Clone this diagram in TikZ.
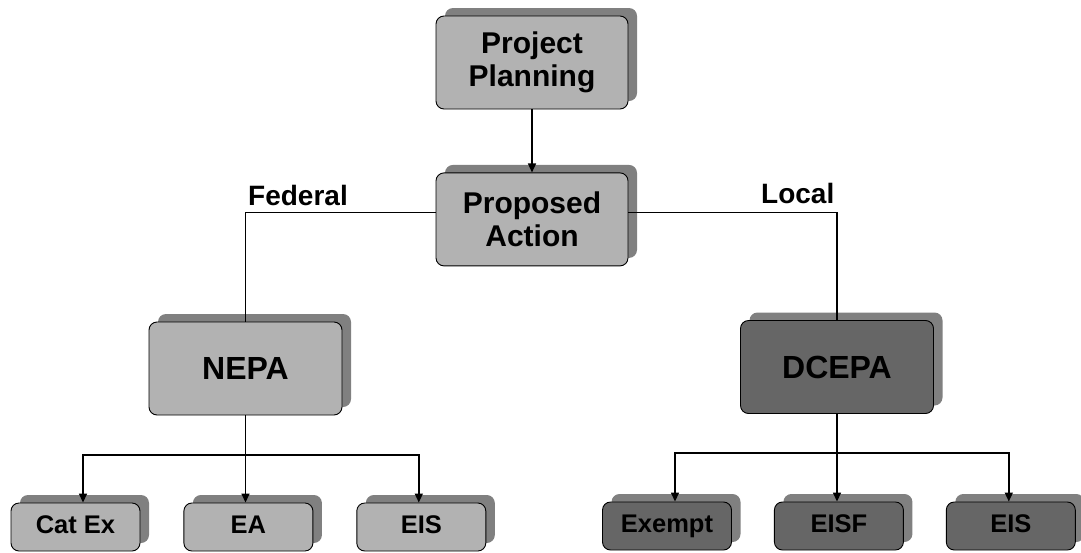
\documentclass[tikz,border=0pt]{standalone}
\usepackage{fontspec}
\setmainfont{Liberation Sans}
\usetikzlibrary{positioning,shadows,arrows.meta}

\definecolor{boxlight}{gray}{0.70}
\definecolor{boxdark}{gray}{0.40}
\definecolor{boxshade}{gray}{0.50}

\tikzset{>={Triangle[length=9pt,width=8pt]}}
\tikzset{
  box/.style={draw=black,line width=0.9pt,rounded corners=8pt,fill=boxlight,align=center,
    copy shadow={shadow xshift=9pt,shadow yshift=8pt,fill=boxshade,draw=none}},
  topbox/.style={box,minimum width=192pt,minimum height=93pt,
    font=\fontsize{30}{33}\selectfont\bfseries},
  lawbox/.style={box,minimum width=193pt,minimum height=93pt,
    font=\fontsize{32}{36}\selectfont\bfseries},
  leafbox/.style={box,minimum width=129pt,minimum height=48pt,inner sep=0pt,
    text height=18pt,text depth=5pt,
    font=\fontsize{25.5}{28}\selectfont\bfseries},
  dark/.style={fill=boxdark},
  branch/.style={font=\fontsize{28}{32}\selectfont\bfseries,inner sep=0pt},
  wire/.style={line width=1.5pt}
}

\begin{document}
\begin{tikzpicture}[x=1pt,y=-1pt]
  \useasboundingbox (0,0) rectangle (1081,552);

  % top of the tree
  \node[topbox] (plan)   at (532,62.5)      {Project\\Planning};
  \node[topbox] (action) [below=63pt of plan] {Proposed\\Action};

  % federal / local
  \node[lawbox]      (nepa)  at (245.5,368.5) {NEPA};
  \node[lawbox,dark] (dcepa) at (837,367)     {DCEPA};
  \node[branch,anchor=base west] (fed)   at (248,205) {Federal};
  \node[branch,anchor=base west] (local) at (761,203) {Local};

  % federal documents
  \node[leafbox] (catex) at (75.5,527)          {Cat Ex};
  \node[leafbox] (ea)    [right=43pt of catex]  {EA};
  \node[leafbox] (eis)   [right=43pt of ea]     {EIS};

  % local documents
  \node[leafbox,dark] (exempt) at (667,526)          {Exempt};
  \node[leafbox,dark] (eisf)   [right=42pt of exempt] {EISF};
  \node[leafbox,dark] (eisl)   [right=42pt of eisf]   {EIS};

  \coordinate (busL) at (245.5,455);
  \coordinate (busR) at (837,453);

  \draw[wire,->] (plan) -- (action);
  \draw[wire] ([yshift=7pt]action.west) -| (nepa.north);
  \draw[wire] ([yshift=7pt]action.east) -| (dcepa.north);

  \draw[wire] (nepa) -- (busL);
  \draw[wire,->] (busL) -| ([xshift=7.5pt]catex.north);
  \draw[wire,->] (busL) -- (busL |- ea.north);
  \draw[wire,->] (busL) -| ([xshift=-2.5pt]eis.north);

  \draw[wire] (dcepa) -- (busR);
  \draw[wire,->] (busR) -| ([xshift=8pt]exempt.north);
  \draw[wire,->] (busR) -- (busR |- eisf.north);
  \draw[wire,->] (busR) -| ([xshift=-2pt]eisl.north);
\end{tikzpicture}
\end{document}
